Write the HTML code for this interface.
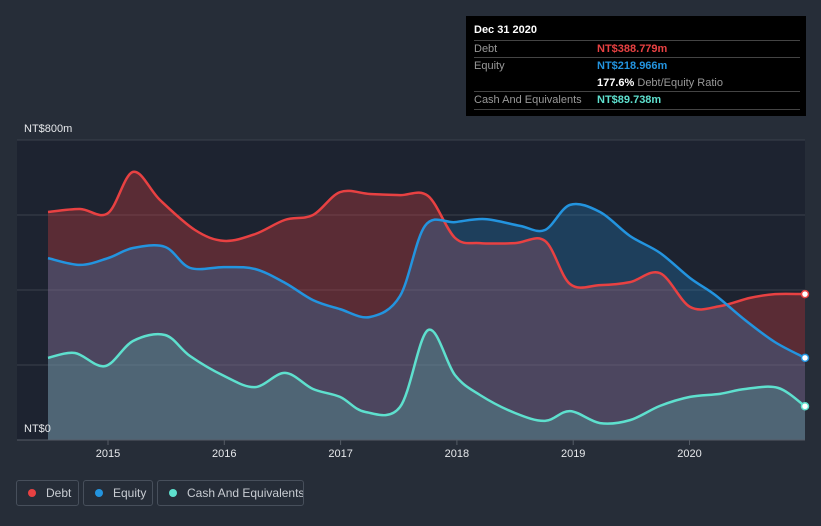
<!DOCTYPE html>
<html><head><meta charset="utf-8"><style>
body{margin:0;background:#262d38;font-family:"Liberation Sans",sans-serif;}
#wrap{position:relative;width:821px;height:526px;overflow:hidden;background:#262d38}
.tt{position:absolute;left:466px;top:16px;width:340px;height:100px;background:#000;color:#fff;font-size:11px}
.row{position:absolute;left:8px;width:326px;border-top:1px solid #444;height:17px;line-height:17px}
.lg{position:absolute;top:480px;height:26px;border:1px solid #474f5b;border-radius:3px;color:#c8ccd2;font-size:12px;line-height:25px;box-sizing:border-box;white-space:nowrap;overflow:hidden}
.dot{display:inline-block;width:8px;height:8px;border-radius:50%;margin:0 10px 0 11px;vertical-align:0px}
</style></head><body>
<div id="wrap">
<svg id="svg" width="821" height="526" style="position:absolute;left:0;top:0"></svg>
<div class="tt">
 <div style="position:absolute;left:8px;top:8px;font-weight:bold">Dec 31 2020</div>
 <div class="row" style="top:24px"><span style="color:#999">Debt</span><span style="position:absolute;left:123px;color:#e84142;font-weight:bold">NT$388.779m</span></div>
 <div class="row" style="top:41px"><span style="color:#999">Equity</span><span style="position:absolute;left:123px;color:#2394df;font-weight:bold">NT$218.966m</span><span style="position:absolute;left:123px;top:17px"><b>177.6%</b> <span style="color:#999">Debt/Equity Ratio</span></span></div>
 <div class="row" style="top:75px;border-bottom:1px solid #444"><span style="color:#999">Cash And Equivalents</span><span style="position:absolute;left:123px;color:#5ee0ce;font-weight:bold">NT$89.738m</span></div>
</div>
<div class="lg" style="left:16px;width:63px"><span class="dot" style="background:#e84142"></span>Debt</div>
<div class="lg" style="left:83px;width:70px"><span class="dot" style="background:#2394df"></span>Equity</div>
<div class="lg" style="left:157px;width:147px"><span class="dot" style="background:#5ee0ce"></span>Cash And Equivalents</div>
</div>
<script>
const debtX=[48,80,108,133,160,195,224,255,285,313,340,370,400,428,455,480,515,545,570,600,630,660,690,720,750,775,805];
const debtV=[608,616,605,715,640,560,531,549,587,600,661,656,653,651,539,525,525,531,416,413,421,445,355,357,379,389,389];
const eqX=[48,80,108,133,165,190,224,255,285,313,340,370,400,425,455,485,520,545,570,600,630,660,690,715,745,775,805];
const eqV=[485,467,485,512,515,459,461,456,419,373,349,328,384,571,581,589,571,560,627,608,544,499,432,387,320,261,219];
const cashX=[48,75,105,133,165,190,224,255,285,313,340,365,400,428,455,480,515,545,570,600,630,660,690,720,745,778,805];
const cashV=[219,232,197,264,280,224,171,141,179,136,115,75,88,293,173,120,72,51,77,45,53,91,115,123,136,139,90];
const yTicks=[0,200,400,600,800];
const years=[2015,2016,2017,2018,2019,2020];
const toYear=x=>2015+(x-108)/116.3;
const X=t=>108+(t-2015)*116.3, Y=v=>440-v*0.375;
const svg=document.getElementById('svg');const NS='http://www.w3.org/2000/svg';
function mk(t,a,name){const e=document.createElementNS(NS,t);for(const k in a)e.setAttribute(k,a[k]);


svg.appendChild(e);return e;}
mk('rect',{x:17,y:140,width:788,height:300,fill:'#1d2330'},'plot-area');
yTicks.forEach(v=>{mk('line',{x1:17,x2:805,y1:Y(v),y2:Y(v),stroke:'#3a414c','stroke-width':1},'gridline');});
function path(xs,vs){const p=xs.map((x,i)=>[X(toYear(x)),Y(vs[i])]);let d='M'+p[0];
for(let i=0;i<p.length-1;i++){const p0=p[i-1]||p[i],p1=p[i],p2=p[i+1],p3=p[i+2]||p2;
d+=' C'+(p1[0]+(p2[0]-p0[0])/6)+','+(p1[1]+(p2[1]-p0[1])/6)+' '+(p2[0]-(p3[0]-p1[0])/6)+','+(p2[1]-(p3[1]-p1[1])/6)+' '+p2[0]+','+p2[1];}
return {d,first:p[0],last:p[p.length-1]};}
const series=[[debtX,debtV,'#e84142','rgba(232,65,66,0.3)','debt'],[eqX,eqV,'#2394df','rgba(35,148,223,0.25)','equity'],[cashX,cashV,'#5ee0ce','rgba(94,224,206,0.2)','cash']];
series.forEach(s=>{const r=path(s[0],s[1]);mk('path',{d:r.d+' L'+r.last[0]+',440 L'+r.first[0]+',440 Z',fill:s[3]},s[4]+'-area');});
series.forEach(s=>{const r=path(s[0],s[1]);mk('path',{d:r.d,fill:'none',stroke:s[2],'stroke-width':2.5},s[4]+'-line');
mk('circle',{cx:r.last[0],cy:r.last[1],r:3.5,fill:'#fff',stroke:s[2],'stroke-width':1.5},s[4]+'-end-marker');});
mk('line',{x1:17,x2:805,y1:440,y2:440,stroke:'#555c66'},'x-axis');
years.forEach(y=>{mk('line',{x1:X(y),x2:X(y),y1:440,y2:445,stroke:'#555c66'},'x-tick');
const t=mk('text',{x:X(y),y:457,fill:'#e6e8eb','font-size':11,'text-anchor':'middle','font-family':'Liberation Sans'},'x-tick-label');t.textContent=y;});
let t=mk('text',{x:24,y:132,fill:'#e6e8eb','font-size':11,'font-family':'Liberation Sans'},'y-label-top');t.textContent='NT$800m';
t=mk('text',{x:24,y:432,fill:'#e6e8eb','font-size':11,'font-family':'Liberation Sans'},'y-label-zero');t.textContent='NT$0';
</script>
</body></html>
